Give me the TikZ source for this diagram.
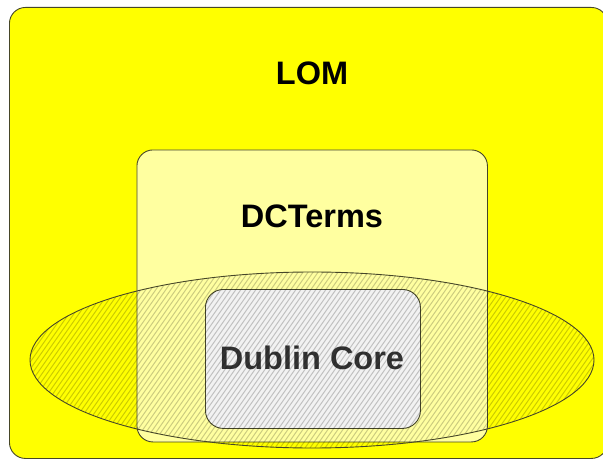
\documentclass[tikz,border=0pt]{standalone}
\usepackage{fontspec}
\setmainfont{Liberation Sans}
\usetikzlibrary{shapes.geometric,positioning}
\definecolor{lomyellow}{RGB}{255,255,0}
\definecolor{termsyellow}{RGB}{255,255,160}
\definecolor{coregray}{RGB}{242,242,242}
\definecolor{setedge}{RGB}{70,70,40}

\tikzset{
  setbox/.style={draw=setedge, line width=0.9pt, rounded corners=16pt,
    inner sep=0pt, anchor=north west},
  setlabel/.style={font=\fontsize{32.5}{39}\selectfont\bfseries, inner sep=0pt},
  hatch/.style={black, opacity=0.2, line width=1pt},
}

\begin{document}
\begin{tikzpicture}[x=1pt, y=-1pt]
  \useasboundingbox (0,0) rectangle (603,460);

  % LOM, cut at the right edge
  \begin{scope}
    \clip (0,0) rectangle (603,460);
    \node[setbox, fill=lomyellow, minimum width=598pt, minimum height=451pt] (lom) at (9,7) {};
  \end{scope}
  \node[setlabel] (lomtext) at (312,73) {LOM};

  % DCTerms
  \node[setbox, fill=termsyellow, minimum width=350.5pt, minimum height=292pt] (dcterms) at (136.5,149.5) {};
  \node[setlabel] (dctermstext) at (312,216) {DCTerms};

  % Dublin Core
  \node[setbox, fill=coregray, rounded corners=18pt, minimum width=215pt, minimum height=139pt] (dc) at (205,289) {};
  \node[setlabel, text=black!80] (dctext) at (312,358) {Dublin Core};

  % hatched ellipse on top
  \node[ellipse, draw=setedge, line width=0.9pt, inner sep=0pt,
        minimum width=564pt, minimum height=176pt,
        path picture={
          \foreach \k in {0,...,150}
            \draw[hatch] ([xshift=\k*5pt-140pt]path picture bounding box.south west) -- ++(126pt,180pt);
        }] (dcset) at (312,360) {};
\end{tikzpicture}
\end{document}
